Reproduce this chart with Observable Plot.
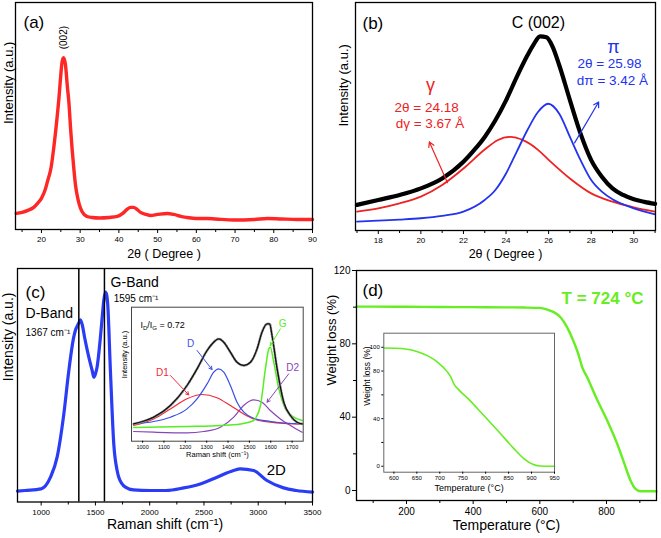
<!DOCTYPE html>
<html><head><meta charset="utf-8">
<script src="https://cdn.jsdelivr.net/npm/d3@7"></script>
<script src="https://cdn.jsdelivr.net/npm/@observablehq/plot@0.6"></script>
<style>
body{margin:0;background:#fff;}
#wrap{position:relative;width:661px;height:538px;overflow:hidden;background:#fff;font-family:"Liberation Sans",Arial,sans-serif;}
.p{position:absolute;}
.p svg{background:transparent !important;overflow:visible;max-width:none !important;}
</style></head><body><div id="wrap"></div>
<script>
// ---------- (a) XRD ----------
const xrdTheta = [13.5,15,16.5,18,19,20,21,21.5,22.5,23.2,24,24.5,25,25.3,25.7,26.2,26.7,27.1,27.5,27.9,28.4,28.8,29.5,30.1,31,31.8,33,35,37.5,39.6,41,42.1,43,43.8,44.7,45.6,47,48.2,50,52.5,54.2,56,57.6,60,62.8,65,69.7,75,78.3,82,86,90];
const xrdI     = [16,17,19,22,26,31,40,47,62,82,110,130,154,166,171,164,142,126,102,81,59,44,29,21,15,13,12,11.5,12,13,16,20,22,22,20,17,15,14,15,16,15,13,12,11,11,10.5,9.5,10,11,10.5,10,10];
const aMajor = [20,30,40,50,60,70,80,90];
const aMinor = [15,25,35,45,55,65,75,85];
const aPeakLabel = [{text:"(002)", x:25.7, y:191}];

// ---------- (b) C(002) fit ----------
const bTheta = [17,18,19,20,21,22,22.5,23,23.5,24,24.5,25,25.3,25.6,25.9,26.2,26.5,27,27.5,28,28.5,29,29.5,30,30.5,31];
const bData  = [25.7,30.7,35.7,42.3,52.3,69,80.7,94,110.7,130.7,154,175.7,187,195,194,184,166,131,97.3,70.7,54,42.3,35.7,31.3,28.7,26.7];
const bGammaX = [17,18,19,20,21,22,23,23.6,24.18,24.8,25.5,26,27,28,29,30,31];
const bGammaY = [19,22.3,27.3,34,45.7,62.3,81.3,90.7,94,90.7,81,71,52.3,37.3,29,23.3,19];
const bPiX = [17,18,19,20,21,22,23,23.5,24,24.5,25,25.5,25.98,26.5,27,27.5,28,28.5,29,30,31];
const bPiY = [9,10,11,12.3,14.7,19,30.7,40.7,57.3,79,100.7,119,127.3,117.3,94,70.7,50.7,39,31.3,22.3,16.3];
const bMajor = [18,20,22,24,26,28,30];
const bMinor = [17,19,21,23,25,27,29,31];
const bArrows = [
  {x1:21.25, y1:48, x2:20.4, y2:89, c:"#ee2222"},
  {x1:27.22, y1:88, x2:28.35, y2:129, c:"#2233ee"}
];
const bLabelTitle = [{text:"C (002)", x:25.52, y:208.7}];
const bLabelGammaSym = [{text:"γ", x:20.45, y:145.7}];
const bLabelGamma = [{text:"2θ = 24.18", x:20.27, y:123.7},{text:"dγ = 3.67 Å", x:20.43, y:107.7}];
const bLabelPiSym = [{text:"π", x:29.05, y:183.7}];
const bLabelPi = [{text:"2θ = 25.98", x:28.86, y:167.7},{text:"dπ = 3.42 Å", x:29.0, y:150.7}];

// ---------- (c) Raman ----------
const ramanX = [782,850,1000,1086,1147,1209,1255,1300,1320,1335,1350,1362,1380,1400,1439,1470,1485,1500,1515,1546,1565,1577,1592,1605,1613,1638,1669,1700,1715,1776,1850,2006,2150,2313,2466,2620,2773,2834,2957,3080,3233,3350,3500];
const ramanI = [10,10.7,12.3,24,44,87.3,130.7,164,172.3,175.7,179,181.3,175.7,164,144,130.7,124,127.3,134,164,187.3,200.7,209,205.7,197.3,130.7,57.3,30.7,24,14,11.3,10.7,10.7,13.3,17.3,24,30.7,32.3,30.7,20.7,13.3,10.7,9];
const cMajor = [1000,1500,2000,2500,3000,3500];
const cMinor = [1250,1750,2250,2750,3250];
const cBandLines = [1347,1583];
const cLabelsBig = [{text:"D-Band", x:856, y:187.7},{text:"G-Band", x:1640, y:218.7}];
const cLabelsSmall = [{text:"1367 cm⁻¹", x:856, y:168.7},{text:"1595 cm⁻¹", x:1668, y:202.7}];
const cLabel2D = [{text:"2D", x:3167, y:30.7}];

// ---------- (c) inset: deconvolution ----------
const insEnvX = [958,1000,1052,1130,1208,1255,1302,1333,1356,1380,1411,1442,1474,1505,1536,1559,1583,1595,1606,1630,1661,1692,1723,1747];
const insEnvY = [17.3,19.7,24,35.7,55.7,72.3,90.7,99,102.3,99,89,79,75.7,79,92.3,109,117.3,117.3,105.7,72.3,39,25.7,19,17.3];
const insDX = [958,1052,1130,1208,1255,1302,1333,1356,1380,1411,1442,1474,1520,1600,1747];
const insDY = [17.3,19.7,24,32.3,42.3,57.3,69,72.3,69,55.7,39,29,23,19.7,17.3];
const insD1X = [958,1052,1130,1208,1278,1348,1411,1473,1520,1598,1747];
const insD1Y = [15.7,22.3,32.3,42.5,46.7,43.5,35.7,27.3,22.3,19,17];
const insGX = [958,1208,1364,1458,1520,1536,1552,1575,1591,1598,1614,1638,1669,1708,1747];
const insGY = [13.7,14.7,15.7,17.3,20.7,25.7,35.7,72.3,92.3,94,79,52.3,32.3,24,20.7];
const insD2X = [958,1052,1208,1286,1364,1427,1473,1520,1559,1598,1645,1692,1747];
const insD2Y = [9.7,9,8.3,9.7,14,24,35.7,41.3,39,30.7,22.3,15.7,9];
const insTicks = [1000,1100,1200,1300,1400,1500,1600,1700];
const insArrows = [
  {x1:1255, y1:90.7, x2:1325, y2:71.7, c:"#3a4fe8"},
  {x1:1130, y1:65.7, x2:1216, y2:46.3, c:"#ee2a3a"},
  {x1:1645, y1:112.3, x2:1598, y2:95.7, c:"#55ee22"},
  {x1:1684, y1:67.3, x2:1583, y2:39, c:"#8844bb"}
];
const insLabelRatio = [{text:"ID/IG = 0.72", x:990, y:115.7}];
const insLabels = [
  {text:"D", x:1225, y:97.7, c:"#3a4fe8"},
  {text:"D1", x:1093, y:68.7, c:"#ee2a3a"},
  {text:"G", x:1656, y:117.7, c:"#55ee22"},
  {text:"D2", x:1703, y:73.7, c:"#8844bb"}
];

// ---------- (d) TGA ----------
const tgaT = [50,100,200,300,400,500,550,600,622,642,662,682,702,717,727,742,772,802,832,852,872,887,902,950];
const tgaW = [100.3,100.3,100.2,100.1,100,99.9,99.8,99.6,98.7,97.3,94.5,89,81,73.6,67.3,61.8,49.5,38.2,25.5,15.5,5.5,0.9,-0.4,-0.4];
const dXMajor = [200,400,600,800];
const dXMinor = [100,300,500,700,900];
const dYMajor = [0,40,80,120];
const dYMinor = [20,60,100];
const dLabelT = [{text:"T = 724 °C", x:788, y:104.7}];
// inset
const tgaInT = [578,600,625,650,675,695,716,724,731,742,760,796,832,861,883,904,919,950];
const tgaInW = [99.4,99.2,98.5,96.5,92.5,87.5,79.5,75,69,64,57.4,42.6,27.5,15,6.5,1.5,0.2,0];
const dInXTicks = [600,650,700,750,800,850,900,950];
const dInYTicks = [0,40,80,100];
const dInYMinor = [20,60];

// ================= rendering =================
const FONT = "Liberation Sans, Arial, sans-serif";
const wrap = document.getElementById("wrap");
function place(el, left, top, w, h){
  const d = document.createElement("div");
  d.className = "p";
  d.style.left = left + "px"; d.style.top = top + "px";
  d.style.width = w + "px"; d.style.height = h + "px";
  d.appendChild(el); wrap.appendChild(d);
}
const pts = (xs, ys) => xs.map((x, i) => ({x, y: ys[i]}));
const id = d => d;
const blank = () => "";
const num = d => String(d);
const st = {fontFamily: FONT, background: "transparent", overflow: "visible"};
const CV = "monotone-x";

// (a)
place(Plot.plot({
  width: 330, height: 270, marginLeft: 15, marginRight: 18, marginTop: 2, marginBottom: 41,
  style: st,
  x: {domain: [13.3, 90], label: null},
  y: {domain: [0, 226], axis: null, label: null},
  marks: [
    Plot.line(pts(xrdTheta, xrdI), {x: "x", y: "y", stroke: "#ff2626", strokeWidth: 3.4, curve: CV}),
    Plot.frame({stroke: "#000", strokeWidth: 1.3}),
    Plot.axisX(aMajor, {tickSize: 4, tickPadding: 3, fontSize: 8, tickFormat: num, label: null}),
    Plot.axisX(aMinor, {tickSize: 3, tickFormat: blank, label: null}),
    Plot.text(["2θ ( Degree )"], {text: id, frameAnchor: "bottom", dy: 28, fontSize: 12.5}),
    Plot.text(["Intensity (a.u.)"], {text: id, frameAnchor: "left", dx: -7, dy: 8, rotate: -90, fontSize: 13}),
    Plot.text(["(a)"], {text: id, frameAnchor: "top-left", dx: 8, dy: 13, fontSize: 17, textAnchor: "start"}),
    Plot.text(aPeakLabel, {x: "x", y: "y", text: "text", rotate: -90, fontSize: 10})
  ]
}), 0, 0, 330, 270);

// (b)
place(Plot.plot({
  width: 331, height: 270, marginLeft: 25, marginRight: 6, marginTop: 2, marginBottom: 40,
  style: st,
  x: {domain: [16.93, 31.02], label: null},
  y: {domain: [0, 229], axis: null, label: null},
  marks: [
    Plot.line(pts(bTheta, bData), {x: "x", y: "y", stroke: "#000", strokeWidth: 4.2, curve: CV}),
    Plot.line(pts(bGammaX, bGammaY), {x: "x", y: "y", stroke: "#ee2222", strokeWidth: 1.8, curve: CV}),
    Plot.line(pts(bPiX, bPiY), {x: "x", y: "y", stroke: "#2233ee", strokeWidth: 1.8, curve: CV}),
    Plot.arrow(bArrows, {x1: "x1", y1: "y1", x2: "x2", y2: "y2", stroke: "c", strokeWidth: 1.2, headLength: 7}),
    Plot.frame({stroke: "#000", strokeWidth: 1.3}),
    Plot.axisX(bMajor, {tickSize: 4, tickPadding: 3, fontSize: 8, tickFormat: num, label: null}),
    Plot.axisX(bMinor, {tickSize: 3, tickFormat: blank, label: null}),
    Plot.text(["2θ ( Degree )"], {text: id, frameAnchor: "bottom", dy: 27, fontSize: 12.5}),
    Plot.text(["Intensity (a.u.)"], {text: id, frameAnchor: "left", dx: -12, dy: 10, rotate: -90, fontSize: 13}),
    Plot.text(["(b)"], {text: id, frameAnchor: "top-left", dx: 7, dy: 14, fontSize: 17, textAnchor: "start"}),
    Plot.text(bLabelTitle, {x: "x", y: "y", text: "text", fontSize: 16, fill: "#000"}),
    Plot.text(bLabelGammaSym, {x: "x", y: "y", text: "text", fontSize: 18, fill: "#ee2222"}),
    Plot.text(bLabelGamma, {x: "x", y: "y", text: "text", fontSize: 13.5, fill: "#ee2222"}),
    Plot.text(bLabelPiSym, {x: "x", y: "y", text: "text", fontSize: 18, fill: "#2233ee"}),
    Plot.text(bLabelPi, {x: "x", y: "y", text: "text", fontSize: 13.5, fill: "#2233ee"})
  ]
}), 330, 0, 331, 270);

// (c)
place(Plot.plot({
  width: 330, height: 278, marginLeft: 17, marginRight: 18, marginTop: 8, marginBottom: 36.5,
  style: st,
  x: {domain: [782, 3500], label: null},
  y: {domain: [-0.8, 232.7], axis: null, label: null},
  marks: [
    Plot.line(pts(ramanX, ramanI), {x: "x", y: "y", stroke: "#2a3cf5", strokeWidth: 3.2, curve: CV}),
    Plot.ruleX(cBandLines, {stroke: "#000", strokeWidth: 1.5}),
    Plot.frame({stroke: "#000", strokeWidth: 1.3}),
    Plot.axisX(cMajor, {tickSize: 4, tickPadding: 3, fontSize: 8, tickFormat: num, label: null}),
    Plot.axisX(cMinor, {tickSize: 3, tickFormat: blank, label: null}),
    Plot.text(["Raman shift (cm⁻¹)"], {text: id, frameAnchor: "bottom", dy: 26.5, fontSize: 14}),
    Plot.text(["Intensity (a.u.)"], {text: id, frameAnchor: "left", dx: -9, dy: -4, rotate: -90, fontSize: 14}),
    Plot.text(["(c)"], {text: id, frameAnchor: "top-left", dx: 8, dy: 17, fontSize: 17, textAnchor: "start"}),
    Plot.text(cLabelsBig, {x: "x", y: "y", text: "text", fontSize: 14, textAnchor: "start"}),
    Plot.text(cLabelsSmall, {x: "x", y: "y", text: "text", fontSize: 10, textAnchor: "start"}),
    Plot.text(cLabel2D, {x: "x", y: "y", text: "text", fontSize: 15})
  ]
}), 0, 260, 330, 278);

// (c) inset
const insetC = Plot.plot({
  width: 200, height: 170, marginLeft: 21, marginRight: 7.3, marginTop: 11.7, marginBottom: 24.3,
  style: st,
  x: {domain: [948, 1752], label: null},
  y: {domain: [0, 134], axis: null, label: null},
  marks: [
    Plot.frame({fill: "#fff", stroke: null}),
    Plot.line(pts(insD2X, insD2Y), {x: "x", y: "y", stroke: "#8844bb", strokeWidth: 1.2, curve: CV}),
    Plot.line(pts(insD1X, insD1Y), {x: "x", y: "y", stroke: "#ee2a3a", strokeWidth: 1.2, curve: CV}),
    Plot.line(pts(insDX, insDY), {x: "x", y: "y", stroke: "#3a4fe8", strokeWidth: 1.2, curve: CV}),
    Plot.line(pts(insGX, insGY), {x: "x", y: "y", stroke: "#55ee22", strokeWidth: 1.5, curve: CV}),
    Plot.line(pts(insEnvX, insEnvY), {x: "x", y: "y", stroke: "#9a9a9a", strokeWidth: 2.6, strokeDasharray: "1 2", curve: CV}),
    Plot.line(pts(insEnvX, insEnvY), {x: "x", y: "y", stroke: "#111", strokeWidth: 1.3, curve: CV}),
    Plot.arrow(insArrows, {x1: "x1", y1: "y1", x2: "x2", y2: "y2", stroke: "c", strokeWidth: 1, headLength: 5}),
    Plot.frame({stroke: "#444", strokeWidth: 1}),
    Plot.axisX(insTicks, {tickSize: 2, tickPadding: 2, fontSize: 5.5, tickFormat: num, label: null}),
    Plot.text(["Raman shift (cm⁻¹)"], {text: id, frameAnchor: "bottom", dy: 16, fontSize: 7.5}),
    Plot.text(["Intensity (a.u.)"], {text: id, frameAnchor: "left", dx: -7, dy: 4, rotate: -90, fontSize: 7.5}),
    Plot.text(insLabelRatio, {x: "x", y: "y", text: "text", fontSize: 9, textAnchor: "start"}),
    Plot.text(insLabels, {x: "x", y: "y", text: "text", fill: "c", fontSize: 10})
  ]
});
insetC.querySelectorAll("text").forEach(t => {
  if (t.textContent === "ID/IG = 0.72") {
    t.innerHTML = 'I<tspan font-size="6" dy="2">D</tspan><tspan dy="-2">/I</tspan><tspan font-size="6" dy="2">G</tspan><tspan dy="-2"> = 0.72</tspan>';
  }
});
place(insetC, 110, 295, 200, 170);

// (d)
place(Plot.plot({
  width: 343, height: 276, marginLeft: 38, marginRight: 5, marginTop: 8, marginBottom: 38,
  style: st,
  x: {domain: [50, 950], label: null},
  y: {domain: [-5.45, 120], label: null},
  marks: [
    Plot.line(pts(tgaT, tgaW), {x: "x", y: "y", stroke: "#66ee22", strokeWidth: 2.4, curve: CV}),
    Plot.frame({stroke: "#000", strokeWidth: 1.3}),
    Plot.axisX(dXMajor, {tickSize: 4, tickPadding: 3, fontSize: 10, tickFormat: num, label: null}),
    Plot.axisX(dXMinor, {tickSize: 3, tickFormat: blank, label: null}),
    Plot.axisY(dYMajor, {tickSize: 4, tickPadding: 2, fontSize: 10, tickFormat: num, label: null}),
    Plot.axisY(dYMinor, {tickSize: 3, tickFormat: blank, label: null}),
    Plot.text(["Temperature (°C)"], {text: id, frameAnchor: "bottom", dy: 29, fontSize: 14}),
    Plot.text(["Weight loss (%)"], {text: id, frameAnchor: "left", dx: -25, rotate: -90, fontSize: 13}),
    Plot.text(["(d)"], {text: id, frameAnchor: "top-left", dx: 6, dy: 13, fontSize: 17, textAnchor: "start"}),
    Plot.text(dLabelT, {x: "x", y: "y", text: "text", fontSize: 17, fontWeight: "bold", fill: "#66ee22"})
  ]
}), 318, 262, 343, 276);

// (d) inset
place(Plot.plot({
  width: 200, height: 172, marginLeft: 23.3, marginRight: 6, marginTop: 7.7, marginBottom: 25.3,
  style: st,
  x: {domain: [578, 950], label: null},
  y: {domain: [-5, 111.8], label: null},
  marks: [
    Plot.frame({fill: "#fff", stroke: null}),
    Plot.line(pts(tgaInT, tgaInW), {x: "x", y: "y", stroke: "#66ee22", strokeWidth: 1.6, curve: CV}),
    Plot.frame({stroke: "#666", strokeWidth: 1}),
    Plot.axisX(dInXTicks, {tickSize: 2, tickPadding: 2, fontSize: 6, tickFormat: num, label: null}),
    Plot.axisY(dInYTicks, {tickSize: 2, tickPadding: 2, fontSize: 6, tickFormat: num, label: null}),
    Plot.axisY(dInYMinor, {tickSize: 2, tickFormat: blank, label: null}),
    Plot.text(["Temperature (°C)"], {text: id, frameAnchor: "bottom", dy: 18.3, fontSize: 9}),
    Plot.text(["Weight loss (%)"], {text: id, frameAnchor: "left", dx: -17, dy: 3, rotate: -90, fontSize: 8.5})
  ]
}), 360, 325, 200, 172);
</script></body></html>
